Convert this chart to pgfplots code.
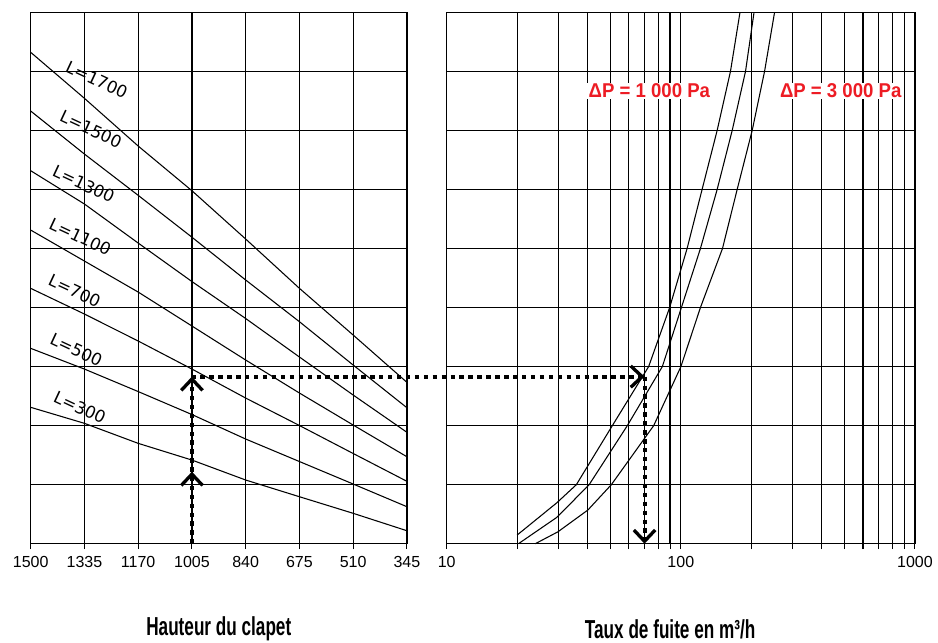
\documentclass[border=0pt]{standalone}
\usepackage{fontspec}
\setmainfont{Liberation Sans}
\newfontfamily\condfont[FakeStretch=0.66]{Liberation Sans}
\newfontfamily\redfont[FakeStretch=0.93]{Liberation Sans}
\newfontfamily\verafont{DejaVu Sans}
\usepackage{pgfplots}
\pgfplotsset{compat=1.18}
\usetikzlibrary{arrows.meta}
\definecolor{dpred}{RGB}{237,28,36}
\begin{document}
\begin{tikzpicture}
\path[use as bounding box] (0,0) rectangle (703.5pt,481.5pt);
\pgfplotsset{
  panel/.style={
    scale only axis, anchor=south west, height=398.6pt,
    ymin=0, ymax=9, ytick={0,...,9}, yticklabels={},
    ymajorgrids, xmajorgrids,
    grid style={black, line width=0.9pt},
    minor grid style={black, line width=0.9pt},
    axis line style={black, line width=0.9pt},
    xtick pos=bottom, xtick align=outside,
    major tick length=4pt, minor tick length=4pt,
    tick style={black, line width=0.8pt},
    ytick style={draw=none},
    xticklabel style={font=\fontsize{12}{14}\selectfont, yshift=-2pt},
    xlabel style={font=\condfont\bfseries\fontsize{19.5}{23}\selectfont, at={(axis description cs:0.5,0)}, anchor=center, yshift=-64pt},
    clip=false,
  },
  curve/.style={black, line width=0.8pt},
  arr/.style={black, line width=3pt, dash pattern=on 3.3pt off 3.4pt, -{Straight Barb[length=8.5pt,width=16pt,line width=2.5pt]}},
}
% ---------------- left panel ----------------
\begin{axis}[panel, at={(23.0pt,73.7pt)}, width=282.2pt,
  x dir=reverse, xmin=345, xmax=1500,
  xtick={345,510,675,840,1005,1170,1335,1500},
  xticklabels={345,510,675,840,1005,1170,1335,1500},
  xlabel={Hauteur du clapet}]
\addplot[curve] coordinates {(1500,8.322) (1335,7.543) (1170,6.735) (1005,5.978) (840,5.160) (675,4.325) (510,3.534) (345,2.733)};
\addplot[curve] coordinates {(1500,7.328) (1335,6.599) (1170,5.900) (1005,5.191) (840,4.466) (675,3.760) (510,3.026) (345,2.303)};
\addplot[curve] coordinates {(1500,6.317) (1335,5.753) (1170,5.092) (1005,4.440) (840,3.814) (675,3.162) (510,2.518) (345,1.887)};
\addplot[curve] coordinates {(1500,5.312) (1335,4.787) (1170,4.262) (1005,3.687) (840,3.111) (675,2.552) (510,2.010) (345,1.473)};
\addplot[curve] coordinates {(1500,4.325) (1335,3.890) (1170,3.433) (1005,2.958) (840,2.467) (675,2.002) (510,1.528) (345,1.057)};
\addplot[curve] coordinates {(1500,3.309) (1335,2.958) (1170,2.577) (1005,2.188) (840,1.773) (675,1.392) (510,1.011) (345,0.627)};
\addplot[curve] coordinates {(1500,2.310) (1335,2.039) (1170,1.700) (1005,1.417) (840,1.079) (675,0.796) (510,0.515) (345,0.220)};
\begin{scope}[every node/.style={rotate=-25, font=\verafont\fontsize{12.5}{14}\selectfont}]
\node at (axis cs:1297,7.853) {L=1700};
\node at (axis cs:1315,7.02) {L=1500};
\node at (axis cs:1337,6.09) {L=1300};
\node at (axis cs:1348,5.20) {L=1100};
\node at (axis cs:1365,4.28) {L=700};
\node at (axis cs:1360,3.28) {L=500};
\node at (axis cs:1349,2.31) {L=300};
\end{scope}
\addplot[arr] coordinates {(1005,0) (1005,1.22)};
\addplot[arr] coordinates {(1005,1.22) (1005,2.83)};
\end{axis}
% ---------------- right panel ----------------
\begin{axis}[panel, at={(335.0pt,73.7pt)}, width=351.2pt,
  xmode=log, xmin=10, xmax=1000,
  xtick={10,100,1000}, xticklabels={10,100,1000},
  minor xtick={20,30,40,50,60,70,80,90,200,300,400,500,600,700,800,900},
  xminorgrids,
  xlabel={Taux de fuite en m³/h},
  xlabel style={xshift=-8pt}]
\addplot[curve] coordinates {(20.0,0.147) (29.56,0.694) (35.8,1) (51.0,2) (72.9,3) (89.6,4) (106.4,5) (123.3,6) (143.0,7) (163.0,8) (179.0,9)};
\addplot[curve] coordinates {(20.25,0) (29.56,0.447) (40.6,1) (59.1,2) (83.4,3) (100.6,4) (121.3,5) (143.0,6) (165.8,7) (189.0,8) (205.5,9)};
\addplot[curve] coordinates {(23.9,0) (29.9,0.203) (40.1,0.571) (50.5,1) (76.6,2) (100.1,3) (121.3,4) (150.7,5) (174.1,6) (201.8,7) (227.9,8) (251.5,9)};
\node[fill=white, inner sep=1pt, text=dpred, font=\redfont\bfseries\fontsize{15}{18}\selectfont] at (axis cs:73.4,7.666) {ΔP = 1 000 Pa};
\node[fill=white, inner sep=1pt, text=dpred, font=\redfont\bfseries\fontsize{15}{18}\selectfont] at (axis cs:482,7.666) {ΔP = 3 000 Pa};
\addplot[arr] coordinates {(0.813,2.83) (70,2.83)};
\addplot[arr] coordinates {(70,2.83) (70,0)};
\end{axis}
\end{tikzpicture}
\end{document}
